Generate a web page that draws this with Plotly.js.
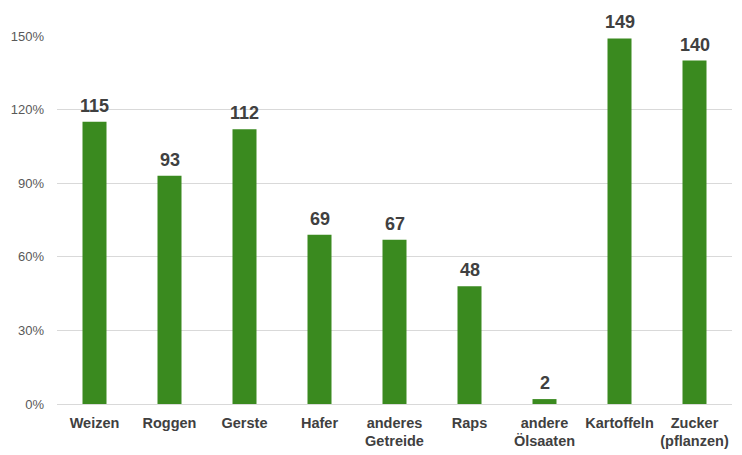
<!DOCTYPE html>
<html>
<head>
<meta charset="utf-8">
<script src="https://cdn.plot.ly/plotly-3.0.1.min.js"></script>
<style>html,body{margin:0;padding:0;background:#fff;}#chart{width:742px;height:455px;}</style>
</head>
<body>
<div id="chart"></div>
<script>
const categories = ["Weizen", "Roggen", "Gerste", "Hafer", "anderes<br>Getreide", "Raps", "andere<br>Ölsaaten", "Kartoffeln", "Zucker<br>(pflanzen)"];
const values = [115, 93, 112, 69, 67, 48, 2, 149, 140];
const tickValues = [0, 30, 60, 90, 120, 150];

const trace = {
  type: "bar",
  x: categories,
  y: values,
  width: 0.32,
  marker: {color: "#3a8a1f", line: {width: 0}},
  cliponaxis: false,
  hoverinfo: "none"
};

const labelAnnotations = categories.map((c, i) => ({
  x: c, y: values[i], xref: "x", yref: "y",
  text: String(values[i]),
  showarrow: false, yanchor: "bottom", yshift: 4,
  font: {family: "Liberation Sans, Arial, sans-serif", size: 18, color: "#404040", weight: "bold"}
}));

const layout = {
  width: 742, height: 455,
  margin: {l: 57, r: 10, t: 36, b: 51},
  paper_bgcolor: "#fff", plot_bgcolor: "#fff",
  showlegend: false,
  font: {family: "Liberation Sans, Arial, sans-serif"},
  annotations: labelAnnotations,
  xaxis: {
    type: "category",
    tickangle: 0,
    automargin: false,
    tickfont: {size: 14.5, color: "#404040", weight: "bold"},
    ticks: "", showline: false, showgrid: false, zeroline: false,
    ticklabelstandoff: 8
  },
  yaxis: {
    range: [0, 150],
    tickvals: tickValues,
    ticktext: tickValues.map(v => v + "%"),
    tickfont: {size: 13, color: "#595959"},
    showgrid: true, gridcolor: "#d9d9d9", gridwidth: 1,
    zeroline: true, zerolinecolor: "#d9d9d9", zerolinewidth: 1,
    showline: false, ticks: "",
    ticklabelstandoff: 12
  }
};

Plotly.newPlot("chart", [trace], layout, {displayModeBar: false, staticPlot: true});
</script>
</body>
</html>
